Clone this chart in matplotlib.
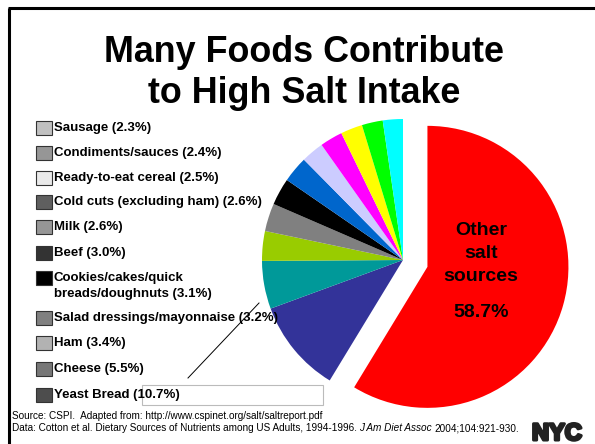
"""Pie chart: foods contributing to high salt intake (NYC DOHMH slide)."""
import matplotlib

matplotlib.use("Agg")

import matplotlib.pyplot as plt
import matplotlib.patheffects as pe
from matplotlib.patches import Rectangle

plt.rcParams["font.family"] = ["Liberation Sans", "DejaVu Sans"]

# slice order as drawn clockwise from 12 o'clock
slice_labels = [
    "Other salt sources", "Yeast Bread", "Cheese", "Ham", "Salad dressings/mayonnaise",
    "Cookies/cakes/quick\nbreads/doughnuts", "Beef", "Milk", "Cold cuts (excluding ham)",
    "Ready-to-eat cereal", "Condiments/sauces", "Sausage",
]
slice_values = [58.7, 10.7, 5.5, 3.4, 3.2, 3.1, 3.0, 2.6, 2.6, 2.5, 2.4, 2.3]
slice_colors = [
    "#FF0000", "#333399", "#009999", "#99CC00", "#808080", "#000000",
    "#0066CC", "#CCCCFF", "#FF00FF", "#FFFF00", "#00FF00", "#00FFFF",
]
# legend swatches are greyscale on the slide
legend_greys = [
    None, "#4D4D4D", "#777777", "#B2B2B2", "#808080", "#000000",
    "#333333", "#969696", "#5F5F5F", "#EAEAEA", "#969696", "#C0C0C0",
]

title_lines = ["Many Foods Contribute", "to High Salt Intake"]
source_line = "Source: CSPI.  Adapted from: http://www.cspinet.org/salt/saltreport.pdf"
data_line = ("Data: Cotton et al. Dietary Sources of Nutrients among US Adults, 1994-1996.",
             "J Am Diet Assoc", "2004;104:921-930.")

W, H = 595, 444
fig = plt.figure(figsize=(W / 100, H / 100), dpi=100)

# pie: centre (403, 260) px, radius 141 px
cx, cy, r = 403, 260, 141
half = 1.3 * r
pie_ax = fig.add_axes([(cx - half) / W, (H - cy - half) / H, 2 * half / W, 2 * half / H])
explode = [0.18] + [0] * (len(slice_values) - 1)
pie_ax.pie(slice_values, colors=slice_colors, startangle=90, counterclock=False,
           explode=explode, radius=1.0, wedgeprops=dict(linewidth=0))
pie_ax.set_xlim(-1.3, 1.3)
pie_ax.set_ylim(-1.3, 1.3)
pie_ax.set_aspect("equal")
pie_ax.axis("off")

# overlay in pixel coordinates for text and decorations
ov = fig.add_axes([0, 0, 1, 1])
ov.set_xlim(0, W)
ov.set_ylim(H, 0)
ov.axis("off")
ov.patch.set_alpha(0)

# slide frame (top and left rule)
ov.plot([8, W], [8, 8], color="black", lw=2.2, solid_capstyle="butt")
ov.plot([9, 9], [8, H], color="black", lw=2.2, solid_capstyle="butt")

for line, y in zip(title_lines, [62, 103]):
    ov.text(304.5, y, line, fontsize=25.8, fontweight="bold", ha="center", va="baseline")

# legend, listed bottom slice first
row_y = [128, 153, 178, 202, 227, 253, 278, 318, 343, 369, 395]
for i, y in zip(range(len(slice_labels) - 1, 0, -1), row_y):
    ov.add_patch(Rectangle((36, y - 7), 15.5, 13.5, facecolor=legend_greys[i],
                           edgecolor="#333333", lw=0.8))
    lines = f"{slice_labels[i]} ({slice_values[i]:.1f}%)".split("\n")
    for k, line in enumerate(lines):
        ov.text(54, y + 15.5 * k, line, fontsize=9.5, fontweight="bold",
                ha="left", va="center")

# stray callout box and leader line from the slide
ov.add_patch(Rectangle((142, 385), 181, 20, facecolor="none", edgecolor="#BBBBBB", lw=0.8))
ov.plot([188, 259], [378, 303], color="black", lw=0.7)

for line, y in zip(["Other", "salt", "sources"], [230, 253, 276]):
    ov.text(481, y, line, fontsize=14, fontweight="bold", ha="center", va="center")
ov.text(481, 312, f"{slice_values[0]:.1f}%", fontsize=14, fontweight="bold",
        ha="center", va="center")

ov.text(12, 419, source_line, fontsize=7.2, ha="left", va="baseline")
renderer = fig.canvas.get_renderer()
x = 12
for part, style in zip(data_line, ["normal", "italic", "normal"]):
    t = ov.text(x, 431, part, fontsize=7.2, style=style, ha="left", va="baseline")
    x += t.get_window_extent(renderer).width + 2.5

ov.text(532, 440, "NYC", fontsize=17, fontweight="heavy", color="#222222",
        ha="left", va="baseline", clip_on=False,
        path_effects=[pe.withStroke(linewidth=2.2, foreground="#222222")])

fig.savefig("out.png", dpi=100)
